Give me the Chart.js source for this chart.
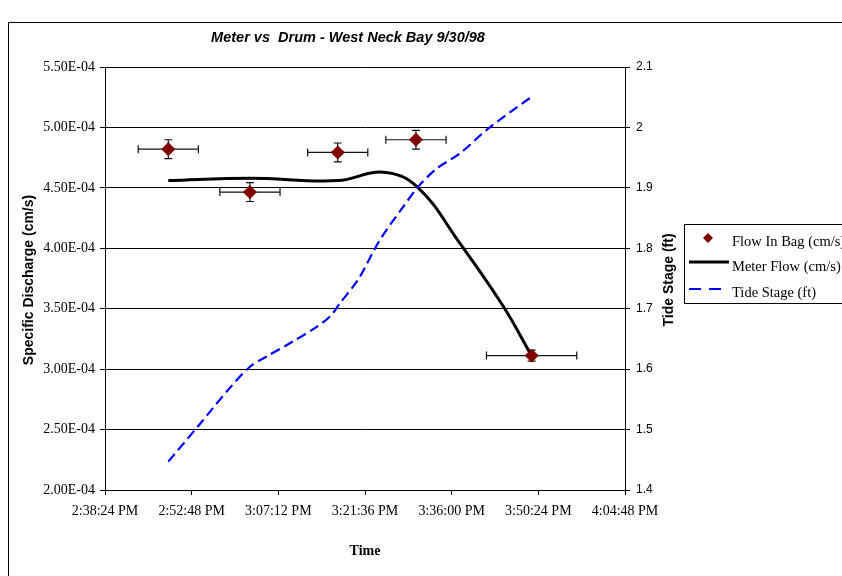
<!DOCTYPE html>
<html><head><meta charset="utf-8">
<script src="https://cdn.jsdelivr.net/npm/chart.js@4.4.0/dist/chart.umd.min.js"></script>
<style>html,body{margin:0;padding:0;background:#fff;} #wrap{width:842px;height:576px;position:relative;overflow:hidden;}</style>
</head><body><div id="wrap"><canvas id="c" width="842" height="576"></canvas></div>
<script>
// ---- data ----
const bagTimes = ["2:48:55 PM","3:02:29 PM","3:17:04 PM","3:30:04 PM","3:49:17 PM"];
const bagFlow = [4.82e-4, 4.465e-4, 4.793e-4, 4.898e-4, 3.112e-4];
const bagTimeErrMin = [5, 5, 5, 5, 7.5];
const bagFlowErr = [0.078e-4, 0.078e-4, 0.078e-4, 0.078e-4, 0.045e-4];

const meterTimes = ["2:48:55 PM","3:02:29 PM","3:17:04 PM","3:24:35 PM","3:30:14 PM","3:37:23 PM","3:44:34 PM","3:49:17 PM"];
const meterFlow = [4.56e-4, 4.58e-4, 4.56e-4, 4.63e-4, 4.51e-4, 4.04e-4, 3.52e-4, 3.11e-4];

const tideTimes = ["2:48:55 PM","2:54:04 PM","2:58:53 PM","3:02:29 PM","3:05:16 PM","3:09:41 PM","3:13:34 PM","3:15:47 PM","3:17:26 PM","3:19:39 PM","3:20:46 PM","3:24:05 PM","3:27:58 PM","3:30:27 PM","3:33:31 PM","3:37:23 PM","3:41:49 PM","3:48:28 PM","3:49:40 PM"];
const tideStage = [1.447,1.508,1.566,1.604,1.621,1.646,1.670,1.687,1.709,1.737,1.753,1.814,1.869,1.902,1.932,1.957,1.996,2.045,2.052];

const xTickLabels = ["2:38:24 PM","2:52:48 PM","3:07:12 PM","3:21:36 PM","3:36:00 PM","3:50:24 PM","4:04:48 PM"];
const leftTicks = [2.0e-4, 2.5e-4, 3.0e-4, 3.5e-4, 4.0e-4, 4.5e-4, 5.0e-4, 5.5e-4];
const rightTicks = [1.4, 1.5, 1.6, 1.7, 1.8, 1.9, 2.0, 2.1];

const seriesNames = ["Flow In Bag (cm/s)", "Meter Flow (cm/s)", "Tide Stage (ft)"];
const chartTitle = "Meter vs  Drum - West Neck Bay 9/30/98";
const leftTitle = "Specific Discharge (cm/s)";
const rightTitle = "Tide Stage (ft)";
const xTitle = "Time";

// ---- helpers ----
function toSec(s){
  const m = s.match(/(\d+):(\d+):(\d+)\s*(AM|PM)/);
  let h = +m[1] % 12; if (m[4] === "PM") h += 12;
  return h*3600 + (+m[2])*60 + (+m[3]);
}
function fmtTime(v){
  let t = Math.round(v); let h = Math.floor(t/3600); const mi = Math.floor((t%3600)/60); const se = t%60;
  const ap = h >= 12 ? "PM" : "AM"; h = h % 12; if (h === 0) h = 12;
  return h + ":" + String(mi).padStart(2,"0") + ":" + String(se).padStart(2,"0") + " " + ap;
}
function fmtE(v){
  const s = v.toExponential(2); const parts = s.split("e");
  const e = parseInt(parts[1],10); const sign = e < 0 ? "-" : "+";
  return parts[0] + "E" + sign + String(Math.abs(e)).padStart(2,"0");
}
const xTickVals = xTickLabels.map(toSec);

const BLACK = "#000000";
const SERIF = "'Liberation Serif','Times New Roman',serif";
const SANS = "'Liberation Sans',Arial,sans-serif";

const overlay = {
  id: "overlay",
  beforeDatasetsDraw(chart){
    const ctx = chart.ctx, xs = chart.scales.x, ys = chart.scales.y;
    ctx.save();
    ctx.strokeStyle = "#111"; ctx.lineWidth = 1.2;
    bagTimes.forEach((t,i)=>{
      const tc = toSec(t), v = bagFlow[i];
      const x0 = xs.getPixelForValue(tc - bagTimeErrMin[i]*60), x1 = xs.getPixelForValue(tc + bagTimeErrMin[i]*60);
      const y = ys.getPixelForValue(v), xc = xs.getPixelForValue(tc);
      const y0 = ys.getPixelForValue(v - bagFlowErr[i]), y1 = ys.getPixelForValue(v + bagFlowErr[i]);
      ctx.beginPath();
      ctx.moveTo(x0, y); ctx.lineTo(x1, y);
      ctx.moveTo(x0, y-4); ctx.lineTo(x0, y+4);
      ctx.moveTo(x1, y-4); ctx.lineTo(x1, y+4);
      ctx.moveTo(xc, y0); ctx.lineTo(xc, y1);
      ctx.moveTo(xc-4, y0); ctx.lineTo(xc+4, y0);
      ctx.moveTo(xc-4, y1); ctx.lineTo(xc+4, y1);
      ctx.stroke();
    });
    ctx.restore();
  },
  afterDraw(chart){
    const ctx = chart.ctx, ds = chart.data.datasets;
    ctx.save();
    // outer frame
    ctx.strokeStyle = BLACK; ctx.lineWidth = 1;
    ctx.strokeRect(8.5, 22.5, 900, 560);
    // title
    ctx.fillStyle = BLACK; ctx.textAlign = "center"; ctx.textBaseline = "middle";
    ctx.font = "italic bold 14.5px " + SANS;
    ctx.fillText(chartTitle, 348, 38);
    // x title
    ctx.font = "bold 14px " + SERIF;
    ctx.fillText(xTitle, 365, 551);
    // y titles
    ctx.font = "bold 14px " + SANS;
    ctx.save(); ctx.translate(29, 280); ctx.rotate(-Math.PI/2); ctx.fillText(leftTitle, 0, 0); ctx.restore();
    ctx.save(); ctx.translate(669, 280); ctx.rotate(-Math.PI/2); ctx.fillText(rightTitle, 0, 0); ctx.restore();
    // legend
    ctx.lineWidth = 1; ctx.strokeStyle = BLACK; ctx.setLineDash([]);
    ctx.strokeRect(684.5, 224.5, 300, 79);
    ctx.textAlign = "left"; ctx.font = "14.5px " + SERIF; ctx.fillStyle = BLACK;
    ctx.fillStyle = ds[0].backgroundColor;
    ctx.beginPath(); ctx.moveTo(708, 233); ctx.lineTo(713, 238); ctx.lineTo(708, 243); ctx.lineTo(703, 238); ctx.closePath(); ctx.fill();
    ctx.fillStyle = BLACK;
    ctx.fillText(seriesNames[0], 732, 242);
    ctx.strokeStyle = ds[1].borderColor; ctx.lineWidth = ds[1].borderWidth;
    ctx.beginPath(); ctx.moveTo(689, 262); ctx.lineTo(729, 262); ctx.stroke();
    ctx.fillText(seriesNames[1], 732, 267);
    ctx.strokeStyle = ds[2].borderColor; ctx.lineWidth = ds[2].borderWidth; ctx.setLineDash([12, 8]);
    ctx.beginPath(); ctx.moveTo(689, 289); ctx.lineTo(729, 289); ctx.stroke();
    ctx.setLineDash([]);
    ctx.fillText(seriesNames[2], 732, 293);
    ctx.restore();
  }
};

new Chart(document.getElementById("c"), {
  type: "scatter",
  data: {
    datasets: [
      { label: seriesNames[0], data: bagTimes.map((t,i)=>({x: toSec(t), y: bagFlow[i]})),
        yAxisID: "y", pointStyle: "rectRot", pointRadius: 6.5, pointHoverRadius: 6.5,
        backgroundColor: "#800000", borderColor: "#800000", borderWidth: 1, showLine: false, order: 0 },
      { label: seriesNames[1], data: meterTimes.map((t,i)=>({x: toSec(t), y: meterFlow[i]})),
        yAxisID: "y", showLine: true, pointRadius: 0, borderColor: BLACK, backgroundColor: BLACK,
        borderWidth: 3, tension: 0.4, order: 2 },
      { label: seriesNames[2], data: tideTimes.map((t,i)=>({x: toSec(t), y: tideStage[i]})),
        yAxisID: "y2", showLine: true, pointRadius: 0, borderColor: "#0000FF", backgroundColor: "#0000FF",
        borderWidth: 2.2, borderDash: [10, 5], tension: 0.3, order: 1 }
    ]
  },
  options: {
    responsive: false, animation: false, devicePixelRatio: 1,
    layout: { padding: { top: 67, left: 0, right: 0, bottom: 0 } },
    plugins: { legend: { display: false }, title: { display: false }, tooltip: { enabled: false } },
    scales: {
      x: {
        type: "linear", position: "bottom",
        min: xTickVals[0], max: xTickVals[xTickVals.length-1],
        afterBuildTicks: s => { s.ticks = xTickVals.map(v => ({ value: v })); },
        afterFit: s => { s.height = 86; },
        ticks: { callback: v => fmtTime(v), font: { family: SERIF, size: 14 }, color: BLACK, padding: 8, maxRotation: 0, autoSkip: false },
        grid: { drawOnChartArea: false, drawTicks: true, tickLength: 5, color: BLACK },
        border: { display: true, color: BLACK, width: 1 }
      },
      y: {
        type: "linear", position: "left",
        min: leftTicks[0], max: leftTicks[leftTicks.length-1],
        afterBuildTicks: s => { s.ticks = leftTicks.map(v => ({ value: v })); },
        afterFit: s => { s.width = 105; },
        ticks: { callback: v => fmtE(v), font: { family: SERIF, size: 14 }, color: BLACK, padding: 5, autoSkip: false },
        grid: { drawOnChartArea: true, drawTicks: true, tickLength: 5, color: BLACK, lineWidth: 1 },
        border: { display: true, color: BLACK, width: 1 }
      },
      y2: {
        type: "linear", position: "right",
        min: rightTicks[0], max: rightTicks[rightTicks.length-1],
        afterBuildTicks: s => { s.ticks = rightTicks.map(v => ({ value: v })); },
        afterFit: s => { s.width = 217; },
        ticks: { callback: v => String(Number(v.toFixed(1))), font: { family: SANS, size: 12 }, color: BLACK, padding: 6, autoSkip: false },
        grid: { drawOnChartArea: false, drawTicks: true, tickLength: 5, color: BLACK },
        border: { display: true, color: BLACK, width: 1 }
      }
    }
  },
  plugins: [overlay]
});
</script></body></html>
